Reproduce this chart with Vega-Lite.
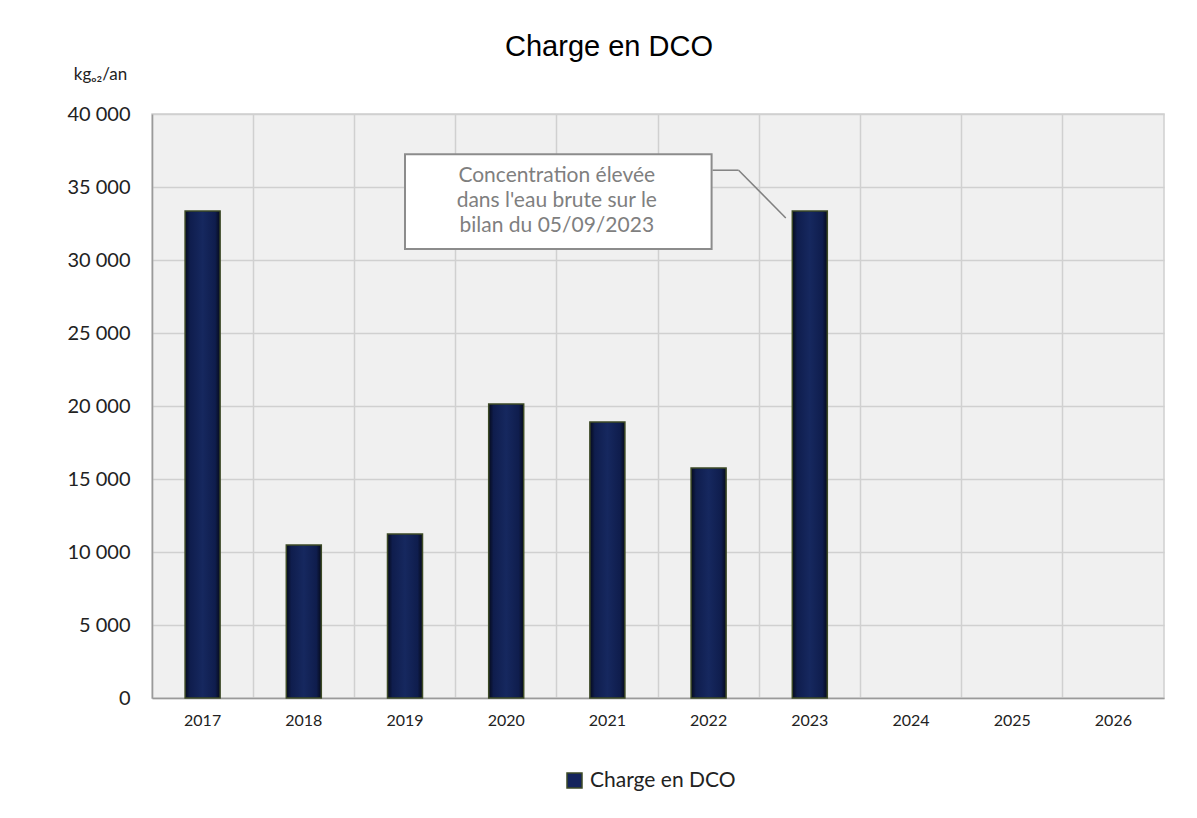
{
  "$schema": "https://vega.github.io/schema/vega-lite/v6.json",
  "autosize": "none",
  "width": 1012,
  "height": 584,
  "padding": {"left": 152, "top": 114, "right": 33, "bottom": 120},
  "background": "white",
  "title": {
    "text": "Charge en DCO",
    "font": "Liberation Sans",
    "fontSize": 29,
    "fontWeight": "normal",
    "color": "#000000",
    "anchor": "middle",
    "frame": "group",
    "dx": -49,
    "offset": 3
  },
  "config": {
    "locale": {"number": {"decimal": ",", "thousands": " ", "grouping": [3], "currency": ["", " €"]}},
    "view": {"fill": "#f0f0f0", "stroke": "#d0d0d0", "strokeWidth": 1.5},
    "font": "Lato"
  },
  "datasets": {
    "charge": [
      {"annee": "2017", "charge": 33350},
      {"annee": "2018", "charge": 10480},
      {"annee": "2019", "charge": 11230},
      {"annee": "2020", "charge": 20140},
      {"annee": "2021", "charge": 18900},
      {"annee": "2022", "charge": 15750},
      {"annee": "2023", "charge": 33360},
      {"annee": "2024", "charge": null},
      {"annee": "2025", "charge": null},
      {"annee": "2026", "charge": null}
    ]
  },
  "encoding": {
    "x": {
      "field": "annee",
      "type": "ordinal",
      "scale": {"domain": ["2017","2018","2019","2020","2021","2022","2023","2024","2025","2026"], "paddingInner": 0, "paddingOuter": 0},
      "axis": {
        "title": null,
        "bandPosition": 0,
        "grid": true,
        "gridColor": "#d0d0d0",
        "gridWidth": 1.5,
        "ticks": false,
        "domain": true,
        "domainColor": "#9a9a9a",
        "domainWidth": 1.5,
        "labelAngle": 0,
        "labelFont": "Lato",
        "labelFontSize": 16,
        "labelColor": "#222222",
        "labelPadding": 14
      }
    }
  },
  "layer": [
    {
      "data": {"name": "charge"},
      "mark": {"type": "bar", "width": {"band": 0.346}},
      "encoding": {
        "y": {
          "field": "charge",
          "type": "quantitative",
          "scale": {"domain": [0, 40000], "nice": false},
          "axis": {
            "values": [0, 5000, 10000, 15000, 20000, 25000, 30000, 35000, 40000],
            "format": ",d",
            "grid": true,
            "gridColor": "#d0d0d0",
            "gridWidth": 1.5,
            "ticks": false,
            "domain": true,
            "domainColor": "#9a9a9a",
            "domainWidth": 1.5,
            "labelFont": "Lato",
            "labelFontSize": 20,
            "labelColor": "#222222",
            "labelPadding": 22,
            "title": "kgₒ₂/an",
            "titleAngle": 0,
            "titleAlign": "center",
            "titleBaseline": "alphabetic",
            "titleX": -52,
            "titleY": -35,
            "titleFont": "Lato",
            "titleFontSize": 17,
            "titleFontWeight": "normal",
            "titleColor": "#222222"
          }
        },
        "color": {
          "datum": "Charge en DCO",
          "type": "nominal",
          "scale": {"range": ["#14245c"]},
          "legend": {
            "orient": "none",
            "legendX": 412,
            "legendY": 656,
            "title": null,
            "symbolType": "square",
            "symbolSize": 225,
            "symbolStrokeColor": "#3d4a26",
            "symbolStrokeWidth": 1.5,
            "symbolOpacity": 1,
            "labelFont": "Lato",
            "labelFontSize": 21,
            "labelColor": "#222222",
            "labelOffset": 5
          }
        }
      }
    },
    {
      "data": {"name": "charge"},
      "mark": {
        "type": "bar",
        "width": {"band": 0.346},
        "stroke": "#3d4a26",
        "strokeWidth": 1.5,
        "fill": {
          "gradient": "linear",
          "x1": 0, "x2": 1, "y1": 0, "y2": 0,
          "stops": [
            {"offset": 0, "color": "#050a1c"},
            {"offset": 0.14, "color": "#0f1d4d"},
            {"offset": 0.5, "color": "#16285f"},
            {"offset": 0.86, "color": "#0f1d4d"},
            {"offset": 1, "color": "#050a1c"}
          ]
        }
      },
      "encoding": {
        "y": {"field": "charge", "type": "quantitative"}
      }
    },
    {
      "data": {"values": [{"de": "2019", "a": "2022", "haut": 37250, "bas": 30750}]},
      "mark": {"type": "rect", "fill": "white", "stroke": "#8c8c8c", "strokeWidth": 2, "x2Offset": 3},
      "encoding": {
        "x": {"field": "de", "type": "ordinal"},
        "x2": {"field": "a"},
        "y": {"field": "haut", "type": "quantitative"},
        "y2": {"field": "bas"}
      }
    },
    {
      "data": {"values": [{"annee": "2021", "y": 35750, "texte": ["Concentration élevée", "dans l'eau brute sur le", "bilan du 05/09/2023"]}]},
      "mark": {"type": "text", "font": "Lato", "fontSize": 21, "color": "#7f7f7f", "align": "center", "baseline": "middle", "lineHeight": 25},
      "encoding": {
        "x": {"field": "annee", "type": "ordinal", "bandPosition": 0},
        "y": {"field": "y", "type": "quantitative"},
        "text": {"field": "texte"}
      }
    },
    {
      "data": {"values": [{"de": "2022", "a": "2022", "y1": 36150, "y2": 36150}]},
      "mark": {"type": "rule", "color": "#808080", "strokeWidth": 1.5, "xOffset": 4, "x2Offset": 30},
      "encoding": {
        "x": {"field": "de", "type": "ordinal"},
        "x2": {"field": "a"},
        "y": {"field": "y1", "type": "quantitative"},
        "y2": {"field": "y2"}
      }
    },
    {
      "data": {"values": [{"de": "2022", "a": "2023", "y1": 36150, "y2": 32880}]},
      "mark": {"type": "rule", "color": "#808080", "strokeWidth": 1.5, "xOffset": 30, "x2Offset": -24},
      "encoding": {
        "x": {"field": "de", "type": "ordinal"},
        "x2": {"field": "a"},
        "y": {"field": "y1", "type": "quantitative"},
        "y2": {"field": "y2"}
      }
    }
  ]
}
